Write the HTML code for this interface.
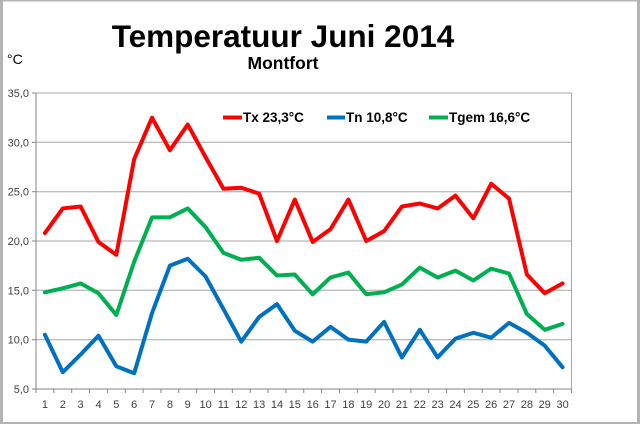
<!DOCTYPE html>
<html><head><meta charset="utf-8"><style>
html,body{margin:0;padding:0;background:#fff}
svg{display:block}
text{font-family:"Liberation Sans",Arial,sans-serif}
</style></head><body>
<svg width="640" height="424" viewBox="0 0 640 424" xmlns="http://www.w3.org/2000/svg">
<rect x="0" y="0" width="640" height="424" fill="#fff"/>
<!-- outer border -->
<rect x="0" y="0" width="3" height="424" fill="#b4b4b4"/>
<rect x="637" y="0" width="3" height="424" fill="#b4b4b4"/>
<rect x="0" y="0" width="640" height="1.5" fill="#b4b4b4"/>
<rect x="0" y="422" width="640" height="2" fill="#b4b4b4"/>

<text x="283" y="47" font-size="31.5" font-weight="bold" text-anchor="middle" fill="#000">Temperatuur Juni 2014</text>
<text x="283" y="69" font-size="17.5" font-weight="bold" text-anchor="middle" fill="#000">Montfort</text>
<text x="7" y="64" font-size="14" fill="#000">°C</text>

<!-- gridlines -->
<g stroke="#a6a6a6" stroke-width="1">
<line x1="36" y1="93" x2="571.5" y2="93"/>
<line x1="36" y1="142.3" x2="571.5" y2="142.3"/>
<line x1="36" y1="191.7" x2="571.5" y2="191.7"/>
<line x1="36" y1="241" x2="571.5" y2="241"/>
<line x1="36" y1="290.3" x2="571.5" y2="290.3"/>
<line x1="36" y1="339.7" x2="571.5" y2="339.7"/>
<line x1="571.5" y1="93" x2="571.5" y2="389"/>
</g>
<!-- axes -->
<g stroke="#868686" stroke-width="1">
<line x1="36" y1="93" x2="36" y2="389"/>
<line x1="36" y1="389" x2="571.5" y2="389"/>
<line x1="32" y1="93" x2="36" y2="93"/>
<line x1="32" y1="142.3" x2="36" y2="142.3"/>
<line x1="32" y1="191.7" x2="36" y2="191.7"/>
<line x1="32" y1="241" x2="36" y2="241"/>
<line x1="32" y1="290.3" x2="36" y2="290.3"/>
<line x1="32" y1="339.7" x2="36" y2="339.7"/>
<line x1="32" y1="389" x2="36" y2="389"/>
</g>
<g stroke="#868686" stroke-width="1" id="xt">
<line x1="36" y1="389" x2="36" y2="393"/>
<line x1="53.85" y1="389" x2="53.85" y2="393"/>
<line x1="71.7" y1="389" x2="71.7" y2="393"/>
<line x1="89.55" y1="389" x2="89.55" y2="393"/>
<line x1="107.4" y1="389" x2="107.4" y2="393"/>
<line x1="125.25" y1="389" x2="125.25" y2="393"/>
<line x1="143.1" y1="389" x2="143.1" y2="393"/>
<line x1="160.95" y1="389" x2="160.95" y2="393"/>
<line x1="178.8" y1="389" x2="178.8" y2="393"/>
<line x1="196.65" y1="389" x2="196.65" y2="393"/>
<line x1="214.5" y1="389" x2="214.5" y2="393"/>
<line x1="232.35" y1="389" x2="232.35" y2="393"/>
<line x1="250.2" y1="389" x2="250.2" y2="393"/>
<line x1="268.05" y1="389" x2="268.05" y2="393"/>
<line x1="285.9" y1="389" x2="285.9" y2="393"/>
<line x1="303.75" y1="389" x2="303.75" y2="393"/>
<line x1="321.6" y1="389" x2="321.6" y2="393"/>
<line x1="339.45" y1="389" x2="339.45" y2="393"/>
<line x1="357.3" y1="389" x2="357.3" y2="393"/>
<line x1="375.15" y1="389" x2="375.15" y2="393"/>
<line x1="393" y1="389" x2="393" y2="393"/>
<line x1="410.85" y1="389" x2="410.85" y2="393"/>
<line x1="428.7" y1="389" x2="428.7" y2="393"/>
<line x1="446.55" y1="389" x2="446.55" y2="393"/>
<line x1="464.4" y1="389" x2="464.4" y2="393"/>
<line x1="482.25" y1="389" x2="482.25" y2="393"/>
<line x1="500.1" y1="389" x2="500.1" y2="393"/>
<line x1="517.95" y1="389" x2="517.95" y2="393"/>
<line x1="535.8" y1="389" x2="535.8" y2="393"/>
<line x1="553.65" y1="389" x2="553.65" y2="393"/>
<line x1="571.5" y1="389" x2="571.5" y2="393"/>
</g>

<!-- y labels -->
<g font-size="11" fill="#404040" text-anchor="end">
<text x="29" y="97">35,0</text>
<text x="29" y="146.3">30,0</text>
<text x="29" y="195.7">25,0</text>
<text x="29" y="245">20,0</text>
<text x="29" y="294.3">15,0</text>
<text x="29" y="343.7">10,0</text>
<text x="29" y="393">5,0</text>
</g>
<!-- x labels -->
<g font-size="11" fill="#404040" text-anchor="middle">
<text x="44.9" y="408">1</text><text x="62.8" y="408">2</text><text x="80.6" y="408">3</text><text x="98.5" y="408">4</text><text x="116.3" y="408">5</text>
<text x="134.2" y="408">6</text><text x="152" y="408">7</text><text x="169.9" y="408">8</text><text x="187.7" y="408">9</text><text x="205.6" y="408">10</text>
<text x="223.4" y="408">11</text><text x="241.3" y="408">12</text><text x="259.1" y="408">13</text><text x="277" y="408">14</text><text x="294.8" y="408">15</text>
<text x="312.7" y="408">16</text><text x="330.5" y="408">17</text><text x="348.4" y="408">18</text><text x="366.2" y="408">19</text><text x="384.1" y="408">20</text>
<text x="401.9" y="408">21</text><text x="419.8" y="408">22</text><text x="437.6" y="408">23</text><text x="455.5" y="408">24</text><text x="473.3" y="408">25</text>
<text x="491.2" y="408">26</text><text x="509" y="408">27</text><text x="526.9" y="408">28</text><text x="544.7" y="408">29</text><text x="562.6" y="408">30</text>
</g>

<!-- series -->
<g transform="matrix(17.85 0 0 -9.8667 27.075 438.333)" fill="none" stroke-linejoin="round" stroke-linecap="round">
<polyline vector-effect="non-scaling-stroke" stroke="#00b050" stroke-width="4" points="1,14.8 2,15.2 3,15.7 4,14.7 5,12.5 6,17.9 7,22.4 8,22.4 9,23.3 10,21.4 11,18.8 12,18.1 13,18.3 14,16.5 15,16.6 16,14.6 17,16.3 18,16.8 19,14.6 20,14.8 21,15.6 22,17.3 23,16.3 24,17.0 25,16.0 26,17.2 27,16.7 28,12.6 29,11.0 30,11.6"/>
<polyline vector-effect="non-scaling-stroke" stroke="#0070c0" stroke-width="4" points="1,10.5 2,6.7 3,8.5 4,10.4 5,7.3 6,6.6 7,12.7 8,17.5 9,18.2 10,16.4 11,13.1 12,9.8 13,12.3 14,13.6 15,10.9 16,9.8 17,11.3 18,10.0 19,9.8 20,11.8 21,8.2 22,11.0 23,8.2 24,10.1 25,10.7 26,10.2 27,11.7 28,10.7 29,9.4 30,7.2"/>
<polyline vector-effect="non-scaling-stroke" stroke="#ff0000" stroke-width="4" points="1,20.8 2,23.3 3,23.5 4,19.9 5,18.6 6,28.3 7,32.5 8,29.2 9,31.8 10,28.5 11,25.3 12,25.4 13,24.8 14,20.0 15,24.2 16,19.9 17,21.2 18,24.2 19,20.0 20,21.0 21,23.5 22,23.8 23,23.3 24,24.6 25,22.3 26,25.8 27,24.3 28,16.6 29,14.7 30,15.7"/>
</g>

<!-- legend -->
<g stroke-width="4">
<line x1="223" y1="117.5" x2="242" y2="117.5" stroke="#ff0000"/>
<line x1="327" y1="117.5" x2="345" y2="117.5" stroke="#0070c0"/>
<line x1="429" y1="117.5" x2="448" y2="117.5" stroke="#00b050"/>
</g>
<g font-size="13.5" font-weight="bold" fill="#000">
<text x="243" y="122">Tx 23,3°C</text>
<text x="346" y="122">Tn 10,8°C</text>
<text x="449" y="122">Tgem 16,6°C</text>
</g>
</svg>
</body></html>
